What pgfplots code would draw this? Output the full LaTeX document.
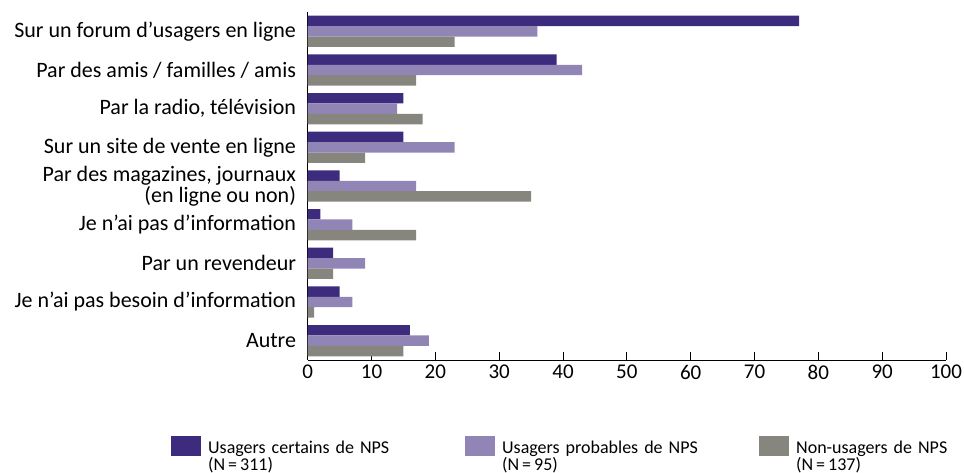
\documentclass[border=0pt]{standalone}
\usepackage{fontspec}
\setmainfont{Carlito}
\usepackage{pgfplots}
\pgfplotsset{compat=1.18}
\definecolor{cdark}{RGB}{61,44,126}
\definecolor{clight}{RGB}{145,133,181}
\definecolor{cgray}{RGB}{134,134,127}
\begin{document}
\begin{tikzpicture}[x=1pt,y=1pt]
\useasboundingbox (0,0) rectangle (964,472);
\begin{axis}[
  at={(307.7pt,112pt)}, anchor=south west,
  scale only axis, width=638.3pt, height=348pt,
  xbar, bar width=0.27,
  xmin=0, xmax=100, ymin=-0.5, ymax=8.5,
  axis lines*=left,
  axis line style={line width=1pt, black},
  xtick={0,10,...,100},
  xtick align=inside,
  major tick length=8pt,
  tick style={line width=1pt, black},
  ytick={0,...,8},
  y tick style={draw=none},
  yticklabels={
    {Autre},
    {Je n’ai pas besoin d’information},
    {Par un revendeur},
    {Je n’ai pas d’information},
    {Par des magazines, journaux\\(en ligne ou non)},
    {Sur un site de vente en ligne},
    {Par la radio, télévision},
    {Par des amis / familles / amis},
    {Sur un forum d’usagers en ligne}},
  yticklabel style={font=\fontsize{22}{16}\selectfont, align=right, anchor=east, inner sep=0pt, xshift=-3.5pt},
  xticklabel style={font=\fontsize{21}{22}\selectfont, anchor=north, inner sep=0pt, yshift=-5pt},
  /pgf/number format/assume math mode=true,
  legend style={at={(-0.2142,-0.2170)}, anchor=north west, draw=none, inner sep=0pt,
    font=\fontsize{18}{14.5}\selectfont, legend columns=3,
    nodes={text width=240pt, align=left, inner sep=0pt},
    /tikz/every odd column/.append style={column sep=7pt},
    /tikz/every even column/.append style={column sep=17pt}},
  legend cell align=left,
  legend image code/.code={\fill[#1] (0pt,-8pt) rectangle (30pt,12pt);},
]
\addplot[draw=none, fill=cdark, bar shift=0.27] coordinates {
 (16,0) (5,1) (4,2) (2,3) (5,4) (15,5) (15,6) (39,7) (77,8)};
\addplot[draw=none, fill=clight, bar shift=0] coordinates {
 (19,0) (7,1) (9,2) (7,3) (17,4) (23,5) (14,6) (43,7) (36,8)};
\addplot[draw=none, fill=cgray, bar shift=-0.27] coordinates {
 (15,0) (1,1) (4,2) (17,3) (35,4) (9,5) (18,6) (17,7) (23,8)};
\addlegendentry{Usagers certains de NPS\\(N\,=\,311)}
\addlegendentry{Usagers probables de NPS\\(N\,=\,95)}
\addlegendentry{Non-usagers de NPS\\(N\,=\,137)}
\end{axis}
\end{tikzpicture}
\end{document}
